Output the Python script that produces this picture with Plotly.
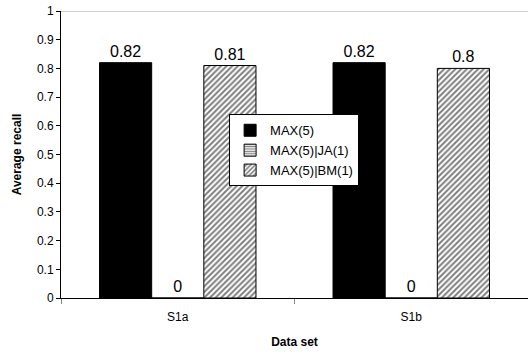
import plotly.graph_objects as go

categories = ["S1a", "S1b"]
series_names = ["MAX(5)", "MAX(5)|JA(1)", "MAX(5)|BM(1)"]
max5 = [0.82, 0.82]
max5_ja1 = [0, 0]
max5_bm1 = [0.81, 0.8]
y_ticks = [0, 0.1, 0.2, 0.3, 0.4, 0.5, 0.6, 0.7, 0.8, 0.9, 1]

font = "Liberation Sans, Arial, sans-serif"

fig = go.Figure()
fig.add_trace(go.Bar(
    name=series_names[0], x=categories, y=max5,
    text=[f"{v:g}" for v in max5], textposition="outside",
    marker=dict(color="black", line=dict(color="black", width=1)),
))
fig.add_trace(go.Bar(
    name=series_names[1], x=categories, y=max5_ja1,
    text=[f"{v:g}" for v in max5_ja1], textposition="outside",
    marker=dict(color="white", line=dict(color="black", width=1),
                pattern=dict(shape="-", fgcolor="black", bgcolor="white", size=3, solidity=0.5)),
))
fig.add_trace(go.Bar(
    name=series_names[2], x=categories, y=max5_bm1,
    text=[f"{v:g}" for v in max5_bm1], textposition="outside",
    marker=dict(color="white", line=dict(color="black", width=1),
                pattern=dict(shape="/", fgcolor="black", bgcolor="white", size=4, solidity=0.5)),
))

fig.update_traces(textfont=dict(family=font, size=16, color="black"), cliponaxis=False)

fig.update_layout(
    width=528, height=352,
    margin=dict(l=61, r=0, t=11, b=54),
    paper_bgcolor="white", plot_bgcolor="white",
    barmode="group", bargap=0.33, bargroupgap=0,
    font=dict(family=font, size=12, color="black"),
    showlegend=True,
    legend=dict(x=0.36, y=0.64, xanchor="left", yanchor="top",
                bgcolor="white", bordercolor="black", borderwidth=1,
                font=dict(family=font, size=13, color="black"),
                itemwidth=30, tracegroupgap=0),
    xaxis=dict(
        showline=True, linecolor="black", linewidth=1,
        ticks="outside", tickson="boundaries", ticklen=5, tickcolor="#888888",
        ticklabelstandoff=8,
        title=dict(text="<b>Data set</b>", font=dict(size=12), standoff=14),
        tickfont=dict(size=12),
    ),
    yaxis=dict(
        range=[0, 1], tickvals=y_ticks, ticktext=[f"{v:g}" for v in y_ticks],
        showline=True, linecolor="black", linewidth=1,
        ticks="outside", ticklen=4, tickcolor="black",
        showgrid=False, zeroline=False,
        title=dict(text="<b>Average recall</b>", font=dict(size=12), standoff=12),
        tickfont=dict(size=12),
    ),
    shapes=[dict(type="line", xref="paper", yref="y", x0=0, x1=1, y0=1, y1=1,
                 line=dict(color="#a0a0a0", width=1))],
)

fig.write_html("out.html")
